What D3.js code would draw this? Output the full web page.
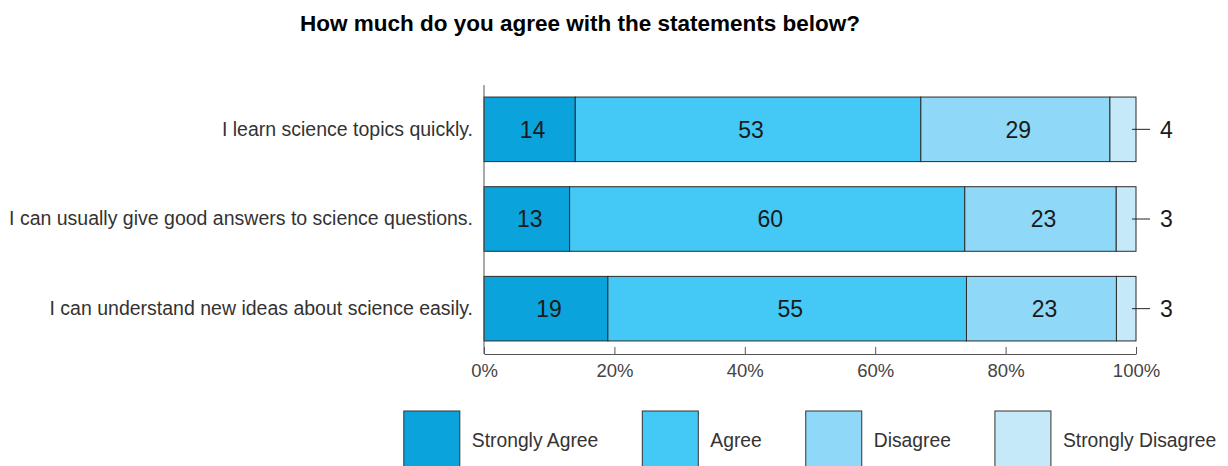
<!DOCTYPE html>
<html>
<head>
<meta charset="utf-8">
<script src="https://cdn.jsdelivr.net/npm/d3@7"></script>
<style>
  body { margin: 0; background: #fff; }
  svg { display: block; }
  text { font-family: "Liberation Sans", Arial, Helvetica, sans-serif; }
</style>
</head>
<body>
<svg id="chart" width="1228" height="466"></svg>
<script>
// Survey statements and response shares (percent)
const statements = [
  "I learn science topics quickly.",
  "I can usually give good answers to science questions.",
  "I can understand new ideas about science easily."
];
const responses = ["Strongly Agree", "Agree", "Disagree", "Strongly Disagree"];
const stronglyAgree    = [14, 13, 19];
const agree            = [53, 60, 55];
const disagree         = [29, 23, 23];
const stronglyDisagree = [4, 3, 3];
const tickValues = [0, 0.2, 0.4, 0.6, 0.8, 1];
const colors = ["#0aa3dc", "#44c8f5", "#8fd8f7", "#c6e9fa"];

const rows = statements.map((s, i) => ({
  statement: s,
  "Strongly Agree": stronglyAgree[i],
  "Agree": agree[i],
  "Disagree": disagree[i],
  "Strongly Disagree": stronglyDisagree[i]
}));

const svg = d3.select("#chart");
const left = 484, right = 1136;

const x = d3.scaleLinear().domain([0, 1]).range([left, right]);
const y = d3.scaleBand().domain(statements).range([84.5, 353.5])
  .paddingInner(0.28).paddingOuter(0.14);
const color = d3.scaleOrdinal().domain(responses).range(colors);

const stack = d3.stack().keys(responses).offset(d3.stackOffsetExpand);
const series = stack(rows);

// Title
svg.append("text")
  .attr("x", 580).attr("y", 31)
  .attr("text-anchor", "middle")
  .attr("font-size", 22.5).attr("font-weight", "bold").attr("fill", "#000")
  .text("How much do you agree with the statements below?");

// Bars
const groups = svg.append("g").selectAll("g").data(series).join("g")
  .attr("fill", d => color(d.key));

groups.selectAll("rect").data(d => d.map(v => ({ v, key: d.key }))).join("rect")
  .attr("x", d => x(d.v[0]))
  .attr("y", d => y(d.v.data.statement))
  .attr("width", d => x(d.v[1]) - x(d.v[0]))
  .attr("height", y.bandwidth())
  .attr("stroke", "#2b2b2b")
  .attr("stroke-width", 1);

// Value labels inside the first three segments
series.slice(0, 3).forEach(s => {
  svg.append("g").selectAll("text").data(s).join("text")
    .attr("x", d => (x(d[0]) + x(d[1])) / 2 + 3)
    .attr("y", d => y(d.data.statement) + y.bandwidth() / 2)
    .attr("dy", "0.36em")
    .attr("text-anchor", "middle")
    .attr("font-size", 23).attr("fill", "#1a1a1a")
    .text(d => d.data[s.key]);
});

// Strongly Disagree values placed outside with a leader line
const last = series[3];
const callouts = svg.append("g").selectAll("g").data(last).join("g");
callouts.append("line")
  .attr("x1", d => x(d[1]) - 4).attr("x2", d => x(d[1]) + 14)
  .attr("y1", d => y(d.data.statement) + y.bandwidth() / 2)
  .attr("y2", d => y(d.data.statement) + y.bandwidth() / 2)
  .attr("stroke", "#222").attr("stroke-width", 1);
callouts.append("text")
  .attr("x", d => x(d[1]) + 24)
  .attr("y", d => y(d.data.statement) + y.bandwidth() / 2)
  .attr("dy", "0.36em")
  .attr("font-size", 23).attr("fill", "#1a1a1a")
  .text(d => d.data["Strongly Disagree"]);

// Category axis
const yAxis = svg.append("g").attr("transform", `translate(${left},0)`)
  .call(d3.axisLeft(y).tickSize(0).tickPadding(11));
yAxis.select(".domain").remove();
yAxis.append("line").attr("x1", 0).attr("x2", 0).attr("y1", 85).attr("y2", 354)
  .attr("stroke", "#555");
yAxis.selectAll(".tick text")
  .attr("font-size", 19.5).attr("fill", "#333")
  .attr("font-family", "'Liberation Sans', Arial, sans-serif");

// Percentage axis
const xAxis = svg.append("g").attr("transform", "translate(0,354)")
  .call(d3.axisBottom(x).tickValues(tickValues).tickFormat(d3.format(".0%"))
    .tickSizeInner(-7).tickSizeOuter(0).tickPadding(10));
xAxis.select(".domain").attr("stroke", "#555");
xAxis.selectAll(".tick line").attr("stroke", "#555");
xAxis.selectAll(".tick text")
  .attr("font-size", 18.5).attr("fill", "#444")
  .attr("font-family", "'Liberation Sans', Arial, sans-serif");

// Legend, centred under the plot
const legend = svg.append("g");
const items = legend.selectAll("g").data(responses).join("g");
items.append("rect")
  .attr("width", 56).attr("height", 60).attr("y", 411)
  .attr("fill", d => color(d)).attr("stroke", "#333").attr("stroke-width", 1);
items.append("text")
  .attr("x", 68).attr("y", 440).attr("dy", "0.36em")
  .attr("font-size", 19.3).attr("fill", "#333")
  .text(d => d);
let widths = [];
items.each(function() { widths.push(68 + this.querySelector("text").getComputedTextLength()); });
const gap = 44;
const total = d3.sum(widths) + gap * (widths.length - 1);
let cx = (left + right) / 2 - total / 2;
items.attr("transform", (d, i) => {
  const t = `translate(${cx},0)`;
  cx += widths[i] + gap;
  return t;
});
</script>
</body>
</html>
